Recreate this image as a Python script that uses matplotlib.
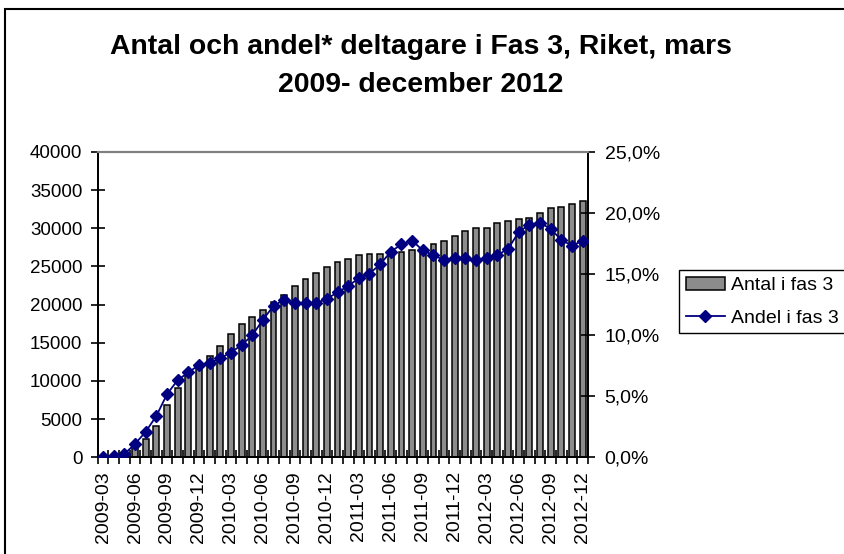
import matplotlib
matplotlib.use("Agg")
import matplotlib.pyplot as plt
from matplotlib.patches import Rectangle

plt.rcParams["font.family"] = ["Liberation Sans", "DejaVu Sans"]

months = [
    "2009-03", "2009-04", "2009-05", "2009-06", "2009-07", "2009-08", "2009-09", "2009-10", "2009-11", "2009-12",
    "2010-01", "2010-02", "2010-03", "2010-04", "2010-05", "2010-06", "2010-07", "2010-08", "2010-09", "2010-10",
    "2010-11", "2010-12", "2011-01", "2011-02", "2011-03", "2011-04", "2011-05", "2011-06", "2011-07", "2011-08",
    "2011-09", "2011-10", "2011-11", "2011-12", "2012-01", "2012-02", "2012-03", "2012-04", "2012-05", "2012-06",
    "2012-07", "2012-08", "2012-09", "2012-10", "2012-11", "2012-12",
]

antal = [
    50, 150, 450, 1400, 2450, 4050, 6900, 9100, 10800, 11700,
    13300, 14550, 16200, 17400, 18400, 19300, 20400, 21200, 22500, 23300,
    24100, 24900, 25550, 25950, 26500, 26700, 26700, 26900, 26900, 27100,
    27400, 27900, 28350, 28950, 29600, 30000, 30100, 30750, 31000, 31200,
    31400, 32000, 32600, 32800, 33200, 33600,
]

# andel i procent
andel = [
    0.0, 0.12, 0.27, 1.09, 2.09, 3.38, 5.16, 6.32, 6.95, 7.56,
    7.70, 8.12, 8.58, 9.20, 9.98, 11.27, 12.40, 12.90, 12.61, 12.61,
    12.61, 12.99, 13.50, 14.03, 14.66, 15.04, 15.80, 16.84, 17.44, 17.74,
    16.95, 16.54, 16.16, 16.32, 16.30, 16.16, 16.30, 16.57, 17.06, 18.45,
    19.05, 19.21, 18.70, 17.80, 17.33, 17.74,
]

left_ticks = [0, 5000, 10000, 15000, 20000, 25000, 30000, 35000, 40000]
right_ticks = [0, 5, 10, 15, 20, 25]

fig = plt.figure(figsize=(8.45, 5.54), dpi=100)
ax = fig.add_axes([97.7 / 845, 1 - 457.3 / 554, (588 - 97.7) / 845, (457.3 - 152) / 554])
ax2 = ax.twinx()

x = list(range(len(months)))
ax.bar(x, antal, width=0.55, color="#8c8c8c", edgecolor="black", linewidth=1.1,
       label="Antal i fas 3", zorder=2)
ax2.plot(x, andel, color="#000080", linewidth=1.3, marker="D", markersize=6,
         label="Andel i fas 3", zorder=3)

ax.set_xlim(-0.5, len(months) - 0.5)
ax.set_ylim(0, 40000)
ax2.set_ylim(0, 25)

ax.set_yticks(left_ticks, [str(v) for v in left_ticks])
ax2.set_yticks(right_ticks, [f"{v:.1f}".replace(".", ",") + "%" for v in right_ticks])

# tick marks at every month boundary, labels every third month
ax.set_xticks([i - 0.5 for i in range(len(months) + 1)], minor=False)
ax.set_xticklabels([])
ax.set_xticks(x[::3], minor=True)
ax.set_xticklabels(months[::3], minor=True, rotation=90, fontsize=14)
ax.tick_params(axis="x", which="major", direction="inout", length=10, width=1.2)
ax.tick_params(axis="x", which="minor", length=0, pad=10)

ax.tick_params(axis="y", direction="inout", length=10, width=1.2, labelsize=13.5, pad=6)
ax2.tick_params(axis="y", direction="inout", length=10, width=1.2, labelsize=14, pad=7)

for a in (ax, ax2):
    a.spines["top"].set_color("#808080")
    a.spines["top"].set_linewidth(1.5)
    for side in ("left", "right", "bottom"):
        a.spines[side].set_linewidth(1.3)
        a.spines[side].set_color("black")

fig.text(0.498, 0.881, "Antal och andel* deltagare i Fas 3, Riket, mars\n2009- december 2012",
         ha="center", va="center", fontsize=20.4, fontweight="bold", linespacing=1.6)

h1, l1 = ax.get_legend_handles_labels()
h2, l2 = ax2.get_legend_handles_labels()
fig.legend(h1 + h2, l1 + l2, loc="upper left", bbox_to_anchor=(679 / 845, 1 - 270 / 554),
           fontsize=14, frameon=True, fancybox=False, edgecolor="black", framealpha=1,
           borderaxespad=0, borderpad=0.35, labelspacing=0.75, handlelength=2.0,
           handletextpad=0.3)

fig.patches.append(Rectangle((5 / 845, -0.05), 1.0, 1 - 9 / 554 + 0.05, transform=fig.transFigure,
                             fill=False, edgecolor="black", linewidth=1.5))

fig.savefig("out.png", dpi=100)
